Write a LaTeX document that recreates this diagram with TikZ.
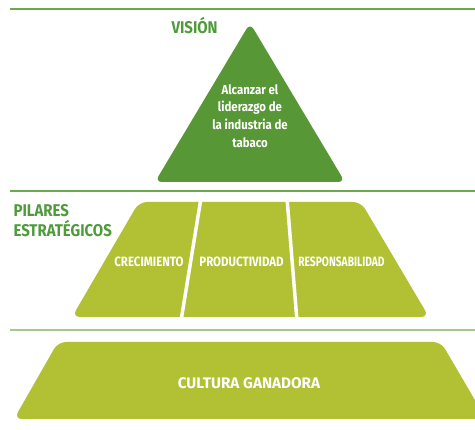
\documentclass[tikz,border=0pt]{standalone}
\usepackage{fontspec}
\setmainfont{Fira Sans}
\newfontfamily\condfont[FakeStretch=0.88]{Fira Sans}
\newfontfamily\tightfont[FakeStretch=0.85]{Fira Sans}
\newfontfamily\respfont[FakeStretch=0.76]{Fira Sans}
\usepackage{xcolor}
\usepackage{tikz}

\definecolor{ruleGreen}{HTML}{6AAA4C}
\definecolor{paleRule}{HTML}{A2C993}
\definecolor{visionGreen}{HTML}{579735}
\definecolor{limeGreen}{HTML}{B1C133}
\definecolor{titleGreen}{HTML}{4F9B3C}

\tikzset{
  heading/.style={text=titleGreen, anchor=base west, align=left,
    font=\condfont\bfseries\fontsize{17}{20}\selectfont},
  pillar/.style={text=white, anchor=base,
    font=\tightfont\bfseries\fontsize{13.5}{15}\selectfont},
  gap/.style={white, line width=3.5pt}
}

\begin{document}
\begin{tikzpicture}[x=1pt, y=-1pt]
        \useasboundingbox (0,0) rectangle (475,430);

        % rules between the levels
        \draw[ruleGreen, line width=1.3pt] (10,9) -- (475,9);
        \draw[ruleGreen, line width=1.3pt] (10,191) -- (475,191);
        \draw[paleRule, line width=1.3pt] (10,330) -- (475,330);

        % vision
        \fill[visionGreen, rounded corners=7pt] (250,182) -- (345,182) -- (250,23) -- (155,182) -- cycle;
        \node[heading] (vision) at (168,34) {VISIÓN};
        \node[text=white, align=center, font=\condfont\bfseries\fontsize{13}{17.7}\selectfont]
            (visiontext) at (250,116) {Alcanzar el\\liderazgo de\\la industria de\\tabaco};

        % pillars
        \fill[limeGreen, rounded corners=8pt] (250,202) -- (361,202) -- (429,317) -- (72,317) -- (139,202) -- cycle;
        \draw[gap] (201,198) -- (181,321);
        \draw[gap] (287,198) -- (297,321);
        \node[heading] (pilares) at (10,237) {PILARES\\ESTRATÉGICOS};
        \node[pillar] (crec) at (149,267) {CRECIMIENTO};
        \node[pillar] (prod) at (241.5,267) {PRODUCTIVIDAD};
        \node[pillar, font=\respfont\bfseries\fontsize{13.5}{15}\selectfont] (resp) at (341.5,267) {RESPONSABILIDAD};

        % base
        \fill[limeGreen, rounded corners=8pt] (250,342) -- (441,342) -- (486,419) -- (14,419) -- (58,342) -- cycle;
        \node[text=white, anchor=base, font=\bfseries\fontsize{15.3}{17}\selectfont]
            (cultura) at (249,388.5) {CULTURA GANADORA};
\end{tikzpicture}
\end{document}
